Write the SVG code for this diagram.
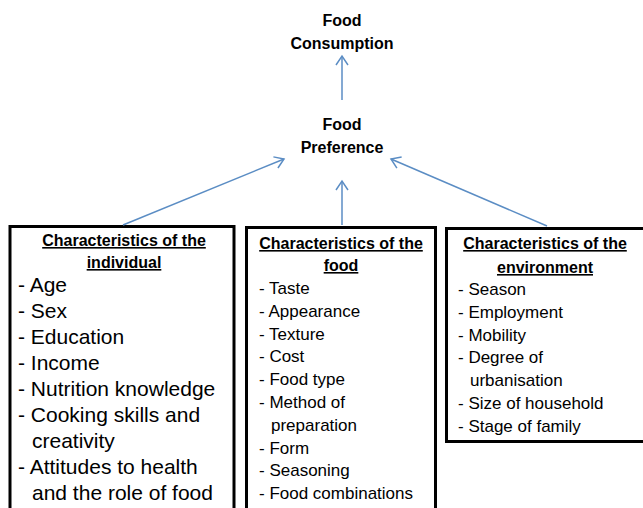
<svg xmlns="http://www.w3.org/2000/svg" width="643" height="508" viewBox="0 0 643 508">
<style>
.t{font-family:"Liberation Sans",Arial,sans-serif;fill:#000}
.top{font-size:16px;font-weight:bold;text-anchor:middle}
.hd{font-size:16px;font-weight:bold;text-anchor:middle;text-decoration:underline}
.l1{font-size:21px}
.l2{font-size:17px}
.box{fill:#fff;stroke:#000;stroke-width:3}
.con{stroke:#5b8dc4;stroke-width:1.5;fill:none}
</style>
<defs>
<marker id="ah" markerUnits="userSpaceOnUse" markerWidth="12" markerHeight="14" refX="10" refY="7" orient="auto" viewBox="0 0 12 14">
<path d="M1,1 L10,7 L1,13" fill="none" stroke="#5b8dc4" stroke-width="1.5"/>
</marker>
</defs>
<g id="food-consumption">
<text class="t top" x="342" y="26">Food</text>
<text class="t top" x="342" y="49">Consumption</text>
</g>
<g id="food-preference">
<text class="t top" x="342" y="130">Food</text>
<text class="t top" x="342" y="153">Preference</text>
</g>
<g id="individual">
<rect class="box" x="10" y="226.5" width="224" height="300"/>
<text class="t hd" x="124" y="246">Characteristics of the</text>
<text class="t hd" x="124" y="268">individual</text>
<text class="t l1" x="18" y="292">- Age</text>
<text class="t l1" x="18" y="318">- Sex</text>
<text class="t l1" x="18" y="344">- Education</text>
<text class="t l1" x="18" y="370">- Income</text>
<text class="t l1" x="18" y="396">- Nutrition knowledge</text>
<text class="t l1" x="18" y="422">- Cooking skills and</text>
<text class="t l1" x="32" y="448">creativity</text>
<text class="t l1" x="18" y="474">- Attitudes to health</text>
<text class="t l1" x="32" y="500">and the role of food</text>
</g>
<g id="food">
<rect class="box" x="246.5" y="227.5" width="189" height="300"/>
<text class="t hd" x="341" y="249">Characteristics of the</text>
<text class="t hd" x="341" y="271">food</text>
<text class="t l2" x="259" y="294">- Taste</text>
<text class="t l2" x="259" y="317">- Appearance</text>
<text class="t l2" x="259" y="340">- Texture</text>
<text class="t l2" x="259" y="362">- Cost</text>
<text class="t l2" x="259" y="385">- Food type</text>
<text class="t l2" x="259" y="408">- Method of</text>
<text class="t l2" x="271" y="431">preparation</text>
<text class="t l2" x="259" y="454">- Form</text>
<text class="t l2" x="259" y="476">- Seasoning</text>
<text class="t l2" x="259" y="499">- Food combinations</text>
</g>
<g id="environment">
<rect class="box" x="446.5" y="228.5" width="210" height="213"/>
<text class="t hd" x="545" y="249">Characteristics of the</text>
<text class="t hd" x="545" y="273">environment</text>
<text class="t l2" x="458" y="295">- Season</text>
<text class="t l2" x="458" y="318">- Employment</text>
<text class="t l2" x="458" y="341">- Mobility</text>
<text class="t l2" x="458" y="363">- Degree of</text>
<text class="t l2" x="470" y="386">urbanisation</text>
<text class="t l2" x="458" y="409">- Size of household</text>
<text class="t l2" x="458" y="432">- Stage of family</text>
</g>
<g id="connectors">
<line class="con" x1="342" y1="100" x2="342" y2="56" marker-end="url(#ah)"/>
<line class="con" x1="342" y1="225" x2="342" y2="181" marker-end="url(#ah)"/>
<line class="con" x1="123" y1="225" x2="284" y2="159" marker-end="url(#ah)"/>
<line class="con" x1="547" y1="226" x2="391" y2="159" marker-end="url(#ah)"/>
</g>
</svg>
